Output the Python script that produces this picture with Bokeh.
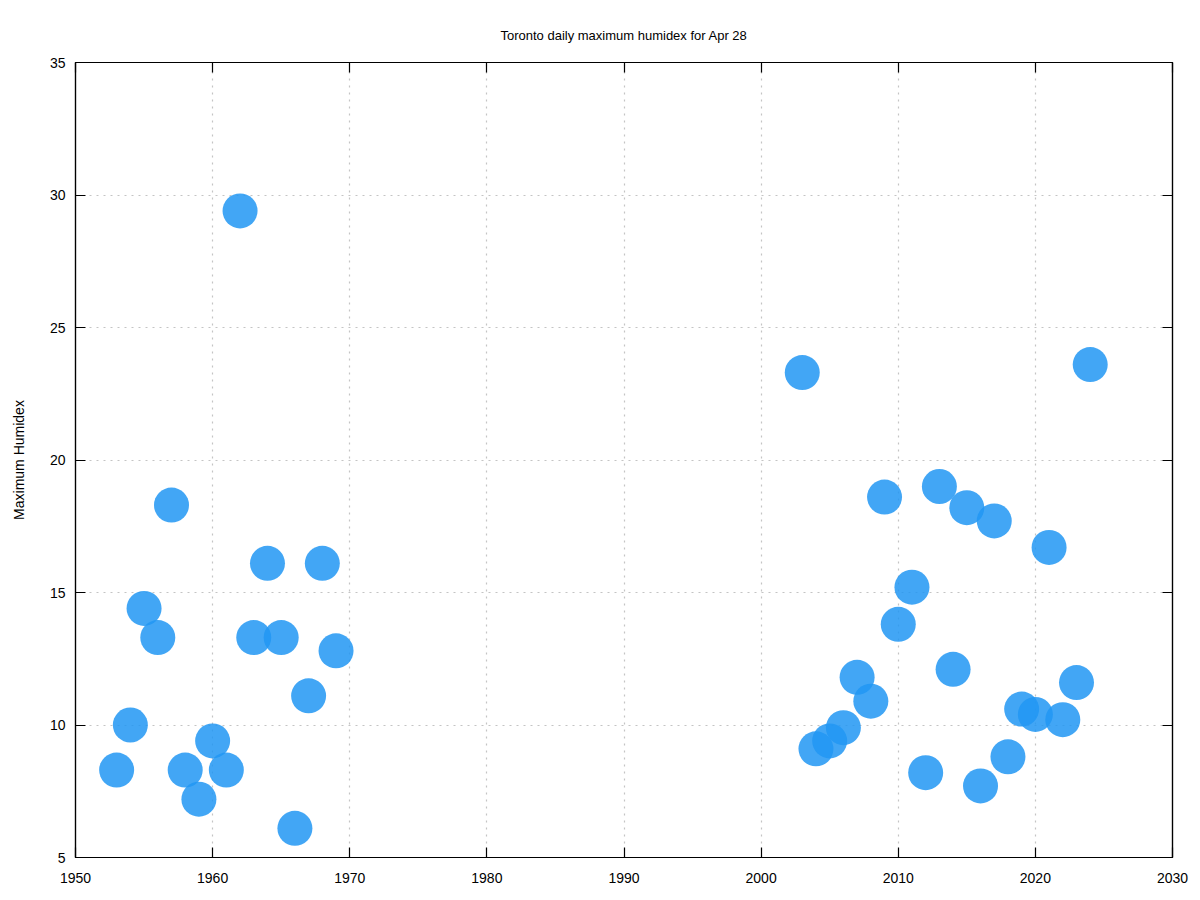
from bokeh.plotting import figure
from bokeh.models import LinearAxis, FixedTicker, Range1d, ColumnDataSource, Grid
from bokeh.embed import file_html
from bokeh.resources import INLINE

years = [1953, 1954, 1955, 1956, 1957, 1958, 1959, 1960, 1961, 1962, 1963, 1964,
         1965, 1966, 1967, 1968, 1969,
         2003, 2004, 2005, 2006, 2007, 2008, 2009, 2010, 2011, 2012, 2013, 2014,
         2015, 2016, 2017, 2018, 2019, 2020, 2021, 2022, 2023, 2024]
humidex = [8.3, 10.0, 14.4, 13.3, 18.3, 8.3, 7.2, 9.4, 8.3, 29.4, 13.3, 16.1,
           13.3, 6.1, 11.1, 16.1, 12.8,
           23.3, 9.1, 9.4, 9.9, 11.8, 10.9, 18.6, 13.8, 15.2, 8.2, 19.0, 12.1,
           18.2, 7.7, 17.7, 8.8, 10.6, 10.4, 16.7, 10.2, 11.6, 23.6]
x_ticks = [1950, 1960, 1970, 1980, 1990, 2000, 2010, 2020, 2030]
y_ticks = [5, 10, 15, 20, 25, 30, 35]

FONT = "Liberation Sans"

p = figure(width=1200, height=900, output_backend="svg", toolbar_location=None,
           x_range=Range1d(1950, 2030), y_range=Range1d(5, 35),
           min_border_left=75, min_border_right=28, min_border_top=62, min_border_bottom=43,
           x_axis_type=None, y_axis_type=None)

p.title.text = "Toronto daily maximum humidex for Apr 28"
p.title.align = "center"
p.title.text_font = FONT
p.title.text_font_size = "13px"
p.title.text_font_style = "normal"
p.title.text_color = "#000000"
p.title.standoff = 40

def style_axis(ax, labels=True):
    ax.major_tick_in = 10
    ax.major_tick_out = 0
    ax.minor_tick_line_color = None
    ax.axis_line_color = "#000000"
    ax.axis_line_width = 1.2
    ax.major_tick_line_color = "#000000"
    ax.major_tick_line_width = 1.2
    ax.major_label_text_font = FONT
    ax.major_label_text_font_size = "14px"
    ax.major_label_text_color = "#000000" if labels else None
    ax.major_label_standoff = 10

xb = LinearAxis(ticker=FixedTicker(ticks=x_ticks))
style_axis(xb)
xb.major_label_standoff = 15
p.add_layout(xb, "below")
xa = LinearAxis(ticker=FixedTicker(ticks=x_ticks))
style_axis(xa, labels=False)
xa.major_label_text_font_size = "0px"
p.add_layout(xa, "above")

yl = LinearAxis(ticker=FixedTicker(ticks=y_ticks))
style_axis(yl)
yl.axis_label = "Maximum Humidex"
yl.axis_label_text_font = FONT
yl.axis_label_text_font_size = "14px"
yl.axis_label_text_font_style = "normal"
yl.axis_label_text_color = "#000000"
yl.axis_label_standoff = 20
p.add_layout(yl, "left")
yr = LinearAxis(ticker=FixedTicker(ticks=y_ticks))
style_axis(yr, labels=False)
yr.major_label_text_font_size = "0px"
p.add_layout(yr, "right")

for dim, tk in ((0, x_ticks), (1, y_ticks)):
    g = Grid(dimension=dim, ticker=FixedTicker(ticks=tk),
             grid_line_color="#c4c4c4", grid_line_dash="2 5", grid_line_width=1.2)
    p.add_layout(g, "center")

p.outline_line_color = "#000000"
p.outline_line_width = 1.2

src = ColumnDataSource(dict(x=years, y=humidex))
p.scatter("x", "y", source=src, size=35, fill_color="#2196F3", fill_alpha=0.85,
          line_color=None)

open("out.html", "w").write(file_html(p, INLINE))
